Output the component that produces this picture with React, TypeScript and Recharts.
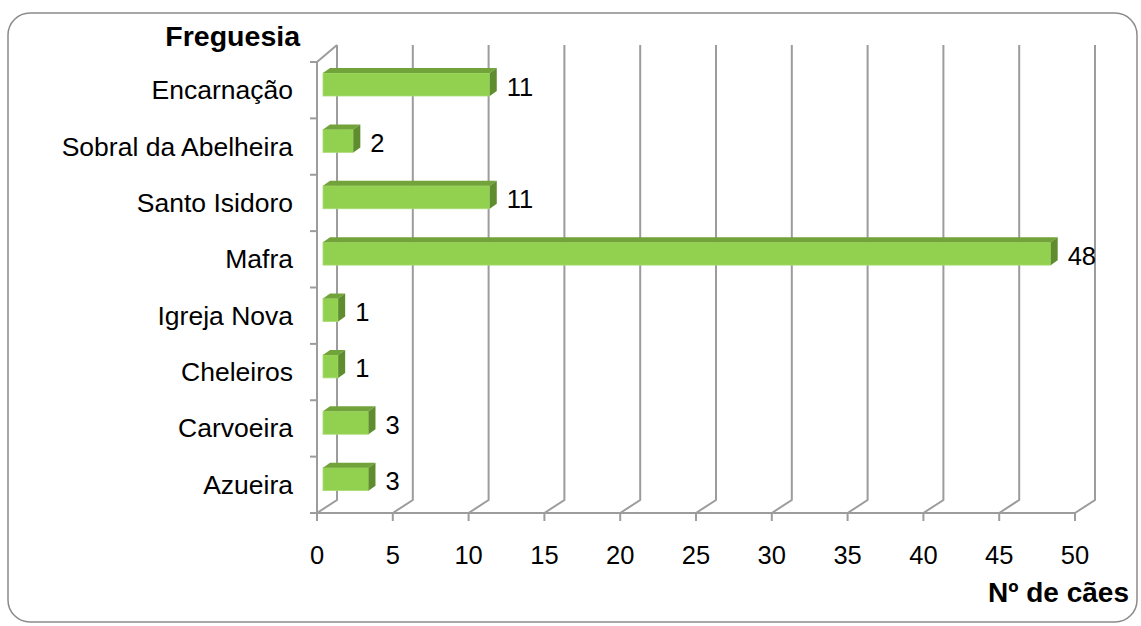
import React from 'react';
import { BarChart, Bar, XAxis, YAxis, CartesianGrid, LabelList } from 'recharts';

const categories = [
  'Encarnação',
  'Sobral da Abelheira',
  'Santo Isidoro',
  'Mafra',
  'Igreja Nova',
  'Cheleiros',
  'Carvoeira',
  'Azueira',
];
const values = [11, 2, 11, 48, 1, 1, 3, 3];
const xTicks = [0, 5, 10, 15, 20, 25, 30, 35, 40, 45, 50];

const data = categories.map((name, i) => ({ name, value: values[i] }));

const FONT = '"Liberation Sans", Arial, sans-serif';
const GRID = '#9c9c9c';
const DEPTH_X = 20;
const DEPTH_TOP = 17;
const DEPTH_BOT = 13;
const BAR_SHIFT = 6;
const BAR_DX = 7;
const BAR_DY = 5;

const GridLine = (props: any) => {
  const { x1, y1, y2, index } = props;
  const bx = x1 + DEPTH_X;
  let d = `M${x1},${y2} L${bx},${y2 - DEPTH_BOT} L${bx},${y1 - DEPTH_TOP}`;
  if (index === 0) d += ` M${x1},${y1} L${bx},${y1 - DEPTH_TOP}`;
  return <path key={`g${index}`} d={d} stroke={GRID} strokeWidth={2} fill="none" />;
};

const Bar3D = (props: any) => {
  const { x, y, width, height } = props;
  const fx = x + BAR_SHIFT;
  const fy = y - BAR_SHIFT;
  const w = Math.max(width, 0);
  const h = height;
  const top = `M${fx},${fy} L${fx + BAR_DX},${fy - BAR_DY} L${fx + w + BAR_DX},${fy - BAR_DY} L${fx + w},${fy} Z`;
  const side = `M${fx + w},${fy} L${fx + w + BAR_DX},${fy - BAR_DY} L${fx + w + BAR_DX},${fy + h - BAR_DY} L${fx + w},${fy + h} Z`;
  return (
    <g>
      <rect x={fx} y={fy} width={w} height={h} fill="#92D050" stroke="#a9dc73" strokeWidth={0.8} />
      <path d={top} fill="#72A33A" />
      <path d={side} fill="#5E8C2E" />
    </g>
  );
};

const ValueLabel = (props: any) => {
  const { x, y, width, height, value } = props;
  return (
    <text
      x={x + width + BAR_SHIFT + BAR_DX + 10}
      y={y + height / 2 - 4}
      dominantBaseline="central"
      fontFamily={FONT}
      fontSize={25.5}
      fill="#000"
    >
      {value}
    </text>
  );
};

const CatTick = (props: any) => {
  const { x, y, payload } = props;
  const half = payload && typeof payload.offset === 'number' ? payload.offset : 0;
  const axisX = x + 24;
  return (
    <g>
      <text x={x} y={y} dominantBaseline="central" textAnchor="end" fontFamily={FONT} fontSize={26.5} fill="#000">
        {payload.value}
      </text>
      {half > 0 && (
        <line x1={axisX - 7} x2={axisX} y1={y - half} y2={y - half} stroke={GRID} strokeWidth={2} />
      )}
      {half > 0 && payload.index === categories.length - 1 && (
        <line x1={axisX - 7} x2={axisX} y1={y + half} y2={y + half} stroke={GRID} strokeWidth={2} />
      )}
    </g>
  );
};

const NumTick = (props: any) => {
  const { x, y, payload } = props;
  return (
    <text x={x} y={y + 41} textAnchor="middle" fontFamily={FONT} fontSize={25.5} fill="#000">
      {payload.value}
    </text>
  );
};

export default function App() {
  return (
    <div style={{ position: 'absolute', left: 0, top: 0, width: 1141, height: 626, background: '#fff' }}>
      <BarChart
        width={1141}
        height={626}
        data={data}
        layout="vertical"
        margin={{ top: 62, right: 66, bottom: 53, left: 17 }}
        barCategoryGap={0}
      >
        <CartesianGrid horizontal={false} vertical={GridLine} />
        <XAxis
          type="number"
          domain={[0, 50]}
          ticks={xTicks}
          interval={0}
          height={60}
          axisLine={{ stroke: GRID, strokeWidth: 2 }}
          tickLine={{ stroke: GRID, strokeWidth: 2 }}
          tickSize={8}
          tick={NumTick}
        />
        <YAxis
          type="category"
          dataKey="name"
          width={300}
          axisLine={{ stroke: GRID, strokeWidth: 2 }}
          tickLine={false}
          tickSize={0}
          tickMargin={24}
          interval={0}
          tick={CatTick}
        />
        <Bar dataKey="value" barSize={23} shape={Bar3D} isAnimationActive={false}>
          <LabelList dataKey="value" content={ValueLabel} />
        </Bar>
      </BarChart>
      <svg width={1141} height={626} style={{ position: 'absolute', left: 0, top: 0, pointerEvents: 'none' }}>
        <rect x={8} y={13} width={1129} height={609} rx={22} ry={22} fill="none" stroke="#8a8a8a" strokeWidth={1.5} />
        <text x={300} y={46} textAnchor="end" fontFamily={FONT} fontSize={28.5} fontWeight="bold" fill="#000">
          Freguesia
        </text>
        <text x={1129} y={602} textAnchor="end" fontFamily={FONT} fontSize={28} fontWeight="bold" fill="#000">
          Nº de cães
        </text>
      </svg>
    </div>
  );
}
